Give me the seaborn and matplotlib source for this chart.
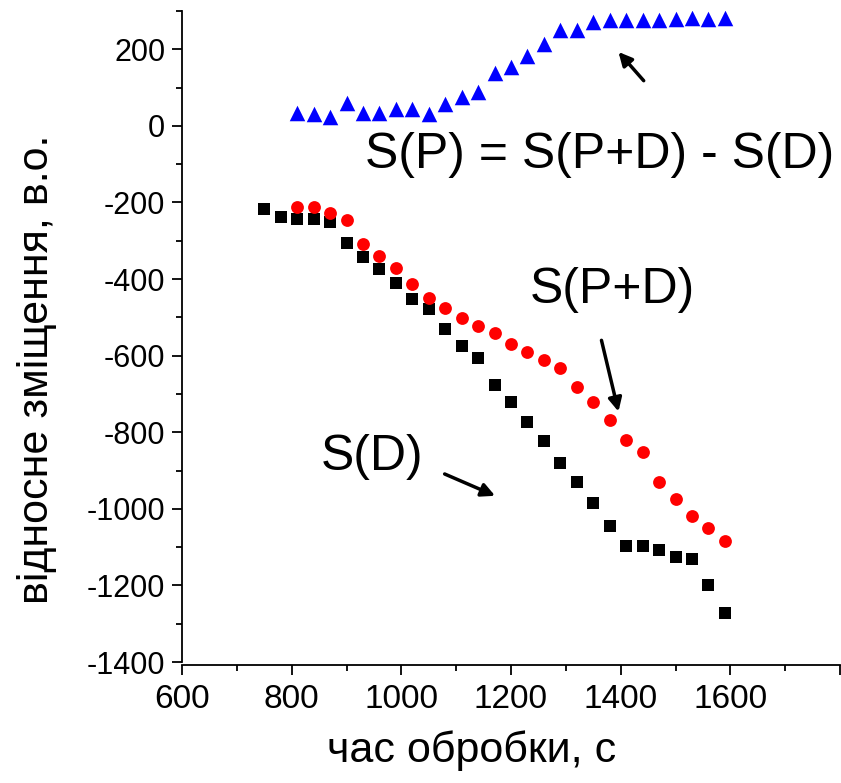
import numpy as np
import pandas as pd
import matplotlib
matplotlib.use("Agg")
import matplotlib.pyplot as plt
from matplotlib.ticker import MultipleLocator
import seaborn as sns

# ---- data ----
t_D = [750, 780, 810, 840, 870, 900, 930, 960, 990, 1020, 1050, 1080, 1110, 1140,
       1170, 1200, 1230, 1260, 1290, 1320, 1350, 1380, 1410, 1440, 1470, 1500,
       1530, 1560, 1590]
S_D = [-218, -237, -243, -243, -252, -305, -343, -374, -411, -452, -479, -531,
       -576, -607, -676, -722, -772, -824, -881, -929, -985, -1044, -1096, -1096,
       -1107, -1125, -1131, -1200, -1271]

t_PD = [810, 840, 870, 900, 930, 960, 990, 1020, 1050, 1080, 1110, 1140, 1170,
        1200, 1230, 1260, 1290, 1320, 1350, 1380, 1410, 1440, 1470, 1500, 1530,
        1560, 1590]
S_PD = [-211, -212, -228, -245, -309, -339, -372, -412, -450, -476, -502, -522,
        -541, -569, -591, -611, -633, -682, -720, -768, -821, -852, -930, -974,
        -1020, -1050, -1083]

t_P = t_PD
S_P = [34, 30, 23, 60, 34, 34, 43, 43, 30, 57, 76, 88, 137, 154, 182, 213, 250,
       251, 271, 276, 276, 276, 276, 280, 282, 280, 283]

x_label = "час обробки, с"
y_label = "відносне зміщення, в.о."
txt_P = "S(P) = S(P+D) - S(D)"
txt_PD = "S(P+D)"
txt_D = "S(D)"

df_D = pd.DataFrame({"t": t_D, "S": S_D})
df_PD = pd.DataFrame({"t": t_PD, "S": S_PD})
df_P = pd.DataFrame({"t": t_P, "S": S_P})

sns.set_style("ticks")
plt.rcParams["font.family"] = ["Liberation Sans", "DejaVu Sans"]
plt.rcParams["axes.unicode_minus"] = False
plt.rcParams["text.color"] = "black"
plt.rcParams["axes.labelcolor"] = "black"
plt.rcParams["xtick.color"] = "black"
plt.rcParams["ytick.color"] = "black"

fig = plt.figure(figsize=(8.41, 7.83), dpi=100)
ax = fig.add_axes([182 / 841, 121 / 783, 658 / 841, 651 / 783])

sns.scatterplot(data=df_D, x="t", y="S", marker="s", s=75, color="black",
                linewidth=0, ax=ax, legend=False)
sns.scatterplot(data=df_PD, x="t", y="S", marker="o", s=85, color="#ff0000",
                linewidth=0, ax=ax, legend=False)
sns.scatterplot(data=df_P, x="t", y="S", marker="^", s=125, color="#0000ff",
                linewidth=0, ax=ax, legend=False)

ax.set_xlim(600, 1800)
ax.set_ylim(-1400, 300)
ax.xaxis.set_major_locator(MultipleLocator(200))
ax.xaxis.set_minor_locator(MultipleLocator(100))
ax.yaxis.set_major_locator(MultipleLocator(200))
ax.yaxis.set_minor_locator(MultipleLocator(100))
ax.set_xticks([600, 800, 1000, 1200, 1400, 1600, 1800])
ax.set_xticklabels(["600", "800", "1000", "1200", "1400", "1600", ""])

for side in ["top", "right"]:
    ax.spines[side].set_visible(False)
for side in ["left", "bottom"]:
    ax.spines[side].set_linewidth(1.3)
    ax.spines[side].set_color("black")
ax.spines["bottom"].set_position(("outward", 2.5))

ax.tick_params(axis="both", which="major", direction="out", length=7, width=1.3,
               color="black", labelcolor="black")
ax.tick_params(axis="both", which="minor", direction="out", length=4, width=1.3,
               color="black")
ax.tick_params(axis="x", labelsize=24, pad=6)
ax.tick_params(axis="y", labelsize=22, pad=5)

ax.set_xlabel(x_label, fontsize=31, color="black")
ax.set_ylabel(y_label, fontsize=31, color="black")
ax.xaxis.set_label_coords(0.44, -0.105)
ax.yaxis.set_label_coords(-0.19, 0.45)

ax.text(933, -76, txt_P, fontsize=36, ha="left", va="center", color="black")
ax.text(1235, -428, txt_PD, fontsize=36, ha="left", va="center", color="black")
ax.text(853, -864, txt_D, fontsize=36, ha="left", va="center", color="black")

arrow = dict(arrowstyle="-|>", color="black", lw=2.5, mutation_scale=20,
             shrinkA=0, shrinkB=0)
ax.annotate("", xy=(1396, 193), xytext=(1442, 118), arrowprops=arrow)
ax.annotate("", xy=(1396, -746), xytext=(1365, -560), arrowprops=arrow)
ax.annotate("", xy=(1171, -966), xytext=(1079, -909), arrowprops=arrow)

fig.savefig("out.png", dpi=100)
